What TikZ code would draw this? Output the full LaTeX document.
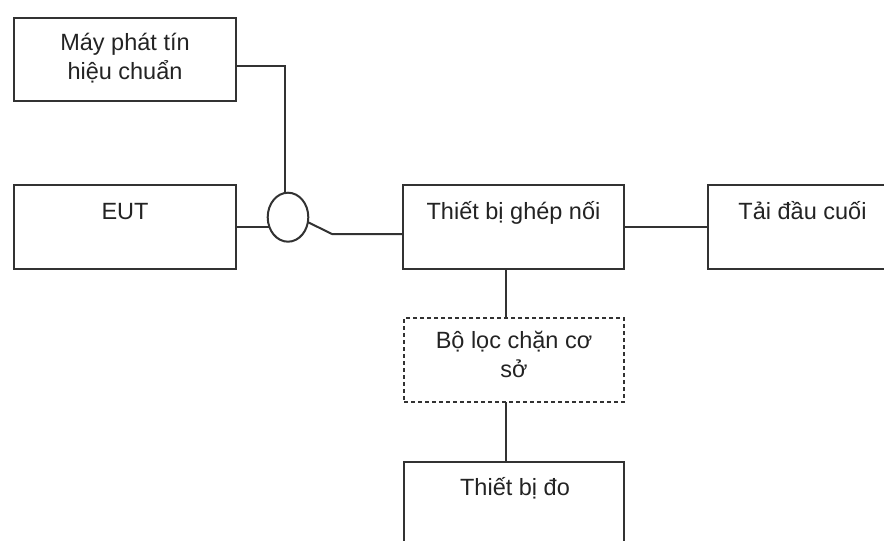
\documentclass[tikz,border=0pt]{standalone}
\usepackage{fontspec}
\setmainfont{Liberation Sans}
\usetikzlibrary{shapes.geometric}
\definecolor{ln}{RGB}{50,50,50}
\definecolor{tx}{RGB}{35,35,35}
\begin{document}
\begin{tikzpicture}[x=1pt,y=-1pt,
  box/.style={draw=ln, line width=2pt, rectangle, anchor=north west, inner sep=0pt, outer sep=0pt},
  dbox/.style={box, dash pattern=on 4pt off 3pt},
  txt/.style={text=tx, font=\fontsize{23.5}{29}\selectfont, inner sep=0pt, anchor=base, align=center},
  wire/.style={draw=ln, line width=2pt},
  ring/.style={draw=ln, line width=2pt, ellipse, minimum width=40.6pt, minimum height=49pt, inner sep=0pt, outer sep=0pt}]
\useasboundingbox (0,0) rectangle (884,541);
\clip (0,0) rectangle (884,541);
\fill[white] (0,0) rectangle (884,541);
% boxes
\node[box, minimum width=222pt, minimum height=83pt] (gen) at (14,18) {};
\node[box, minimum width=222pt, minimum height=84pt] (eut) at (14,185) {};
\node[box, minimum width=220.5pt, minimum height=84pt] (cpl) at (403,185) {};
\node[box, minimum width=189pt, minimum height=84pt] (load) at (708,185) {};
\node[dbox, minimum width=220pt, minimum height=84pt] (filt) at (404,318) {};
\node[box, minimum width=220pt, minimum height=84pt] (meas) at (404,462) {};
\node[ring] (circ) at (288,217.2) {};
% texts
\node[txt] (gent) at (125,79) {Máy phát tín\\hiệu chuẩn};
\node[txt] (eutt) at (125,219) {EUT};
\node[txt] (cplt) at (513.5,219) {Thiết bị ghép nối};
\node[txt] (loadt) at (802.5,219) {Tải đầu cuối};
\node[txt] (filtt) at (514,377) {Bộ lọc chặn cơ\\sở};
\node[txt] (meast) at (515,495) {Thiết bị đo};
% connectors
\coordinate (bend) at (332,234);
\coordinate (vx) at (506,0);
\draw[wire] ([yshift=-6.5pt]gen.east) -| (circ.96);
\draw[wire] (eut.east) -- (eut.east -| circ.208);
\draw[wire] (circ.346) -- (bend) -- (bend -| cpl.west);
\draw[wire] (cpl.east) -- (load.west);
\draw[wire] (cpl.south -| vx) -- (filt.north -| vx);
\draw[wire] (filt.south -| vx) -- (meas.north -| vx);
\end{tikzpicture}
\end{document}
